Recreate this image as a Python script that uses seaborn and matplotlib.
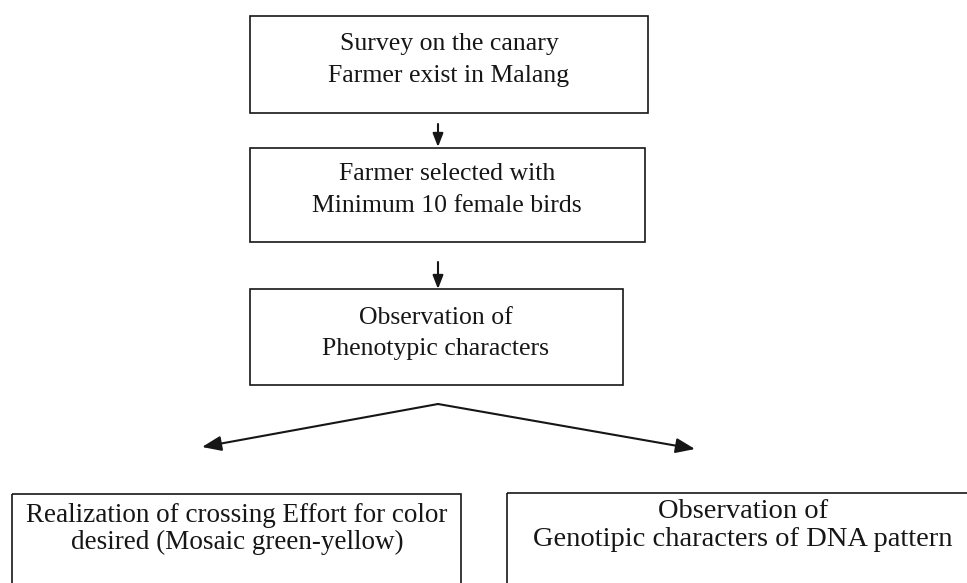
import matplotlib
matplotlib.use("Agg")
import matplotlib.pyplot as plt
import matplotlib.patches as mpatches
import seaborn as sns

# Texto de cada caja (una lista de lineas por caja)
box_labels = [
    ["Survey on the canary", "Farmer exist in Malang"],
    ["Farmer selected with", "Minimum 10 female birds"],
    ["Observation of", "Phenotypic characters"],
    ["Realization of crossing Effort for color", "desired (Mosaic green-yellow)"],
    ["Observation of", "Genotipic characters of DNA pattern"],
]

# Geometria de las cajas (pixeles, y hacia abajo)
box_left = [250, 250, 250, 12, 507]
box_right = [648, 645, 623, 461, 985]
box_top = [16, 148, 289, 494, 493]
box_bottom = [113, 242, 385, 600, 600]
line_y = [[44, 76], [174, 206], [318, 349], [515, 542], [512, 539]]
text_x = [449, 447, 436, 237, 743]
font_pt = [18.5, 18.5, 18.5, 19.5, 20.5]

# Flechas: (inicio) -> (punta)
arrow_start = [(438, 124), (438, 262), (438, 404), (438, 404)]
arrow_end = [(438, 147), (438, 289), (202, 447), (695, 449)]
head_scale = [9, 9, 13, 13]

sns.set_theme(style="white")
plt.rcParams["font.family"] = ["Liberation Serif", "DejaVu Serif"]

fig = plt.figure(figsize=(9.67, 5.83), dpi=100)
ax = fig.add_axes([0, 0, 1, 1])
ax.set_xlim(0, 967)
ax.set_ylim(583, 0)
ax.axis("off")

ink = "#161616"

for i, lines in enumerate(box_labels):
    rect = mpatches.Rectangle((box_left[i], box_top[i]),
                              box_right[i] - box_left[i],
                              box_bottom[i] - box_top[i],
                              fill=False, edgecolor=ink, linewidth=1.2)
    ax.add_patch(rect)
    for txt, y in zip(lines, line_y[i]):
        ax.text(text_x[i], y, txt, ha="center", va="center",
                fontsize=font_pt[i], color=ink)

# Flechas cortas hacia abajo y las dos diagonales
for (x0, y0), (x1, y1), hs in zip(arrow_start, arrow_end, head_scale):
    ax.annotate("", xy=(x1, y1), xytext=(x0, y0),
                arrowprops=dict(arrowstyle="-|>,head_length=0.9,head_width=0.35",
                                color=ink, lw=1.5, mutation_scale=hs,
                                shrinkA=0, shrinkB=0))

fig.savefig("out.png", dpi=100, facecolor="white")
